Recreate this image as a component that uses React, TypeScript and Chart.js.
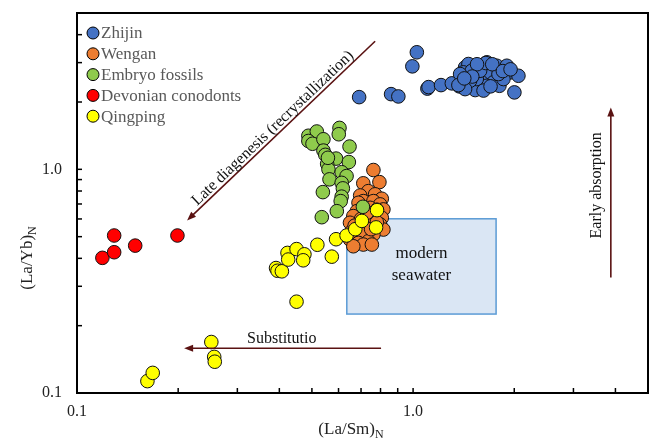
import { useEffect, useRef } from "react";
import { Chart, registerables } from "chart.js";
Chart.register(...registerables);

// ---------- data ----------
const seriesNames = ["Zhijin", "Wengan", "Embryo fossils", "Devonian conodonts", "Qingping"];
const seriesColors = ["#4472c4", "#ed7d31", "#8fcb4c", "#ff0000", "#ffff00"];

const zhijinX = [1.026, 0.995, 0.691, 0.86, 0.904, 1.103, 1.112, 1.211, 1.304, 1.373, 1.428, 1.461, 1.411, 1.495, 1.445, 1.53, 1.602, 1.658, 1.696, 1.775, 1.734, 1.807, 1.901, 1.953, 2.058, 2.002, 1.857, 1.658, 1.547, 1.38, 1.795, 1.583, 1.478, 1.428, 1.364, 1.646, 1.55, 1.72, 1.62, 1.5, 1.85, 1.95, 1.42, 1.7];
const zhijinY = [3.337, 2.887, 2.103, 2.169, 2.118, 2.296, 2.332, 2.38, 2.423, 2.349, 2.858, 2.957, 2.714, 2.759, 2.363, 2.262, 2.533, 3.009, 2.714, 2.905, 2.448, 2.363, 2.905, 2.714, 2.62, 2.208, 2.533, 2.363, 2.533, 2.667, 2.667, 2.759, 2.489, 2.284, 2.38, 2.987, 2.95, 2.95, 2.25, 2.6, 2.75, 2.8, 2.55, 2.35];

const wenganX = [0.762, 0.794, 0.711, 0.736, 0.771, 0.807, 0.696, 0.711, 0.688, 0.762, 0.798, 0.816, 0.745, 0.68, 0.664, 0.754, 0.807, 0.649, 0.728, 0.798, 0.816, 0.657, 0.696, 0.762, 0.649, 0.688, 0.736, 0.711, 0.754, 0.664, 0.7, 0.67, 0.78, 0.78, 0.73, 0.75];
const wenganY = [0.993, 0.877, 0.866, 0.799, 0.773, 0.739, 0.764, 0.721, 0.709, 0.721, 0.697, 0.662, 0.673, 0.65, 0.618, 0.618, 0.607, 0.577, 0.567, 0.567, 0.538, 0.529, 0.52, 0.511, 0.485, 0.469, 0.477, 0.461, 0.461, 0.453, 0.6, 0.56, 0.66, 0.58, 0.64, 0.54];

const embryoX = [0.604, 0.601, 0.488, 0.517, 0.488, 0.502, 0.541, 0.647, 0.541, 0.548, 0.59, 0.555, 0.644, 0.56, 0.613, 0.634, 0.564, 0.613, 0.618, 0.539, 0.613, 0.609, 0.593, 0.535, 0.709, 0.558];
const embryoY = [1.532, 1.435, 1.413, 1.476, 1.339, 1.301, 1.363, 1.264, 1.213, 1.161, 1.117, 1.058, 1.078, 1.0, 0.971, 0.933, 0.902, 0.87, 0.822, 0.791, 0.755, 0.721, 0.65, 0.611, 0.68, 1.126];

const devonianX = [0.119, 0.129, 0.129, 0.149, 0.199];
const devonianY = [0.402, 0.506, 0.426, 0.456, 0.506];

const qingpingX = [0.162, 0.168, 0.251, 0.256, 0.257, 0.45, 0.391, 0.395, 0.407, 0.423, 0.425, 0.45, 0.475, 0.471, 0.519, 0.573, 0.59, 0.634, 0.673, 0.704, 0.776, 0.781];
const qingpingY = [0.113, 0.123, 0.169, 0.145, 0.138, 0.256, 0.362, 0.352, 0.35, 0.423, 0.395, 0.44, 0.417, 0.392, 0.46, 0.407, 0.487, 0.506, 0.54, 0.588, 0.55, 0.657];

// axes
const xRange = [0.1, 5];
const yRange = [0.1, 5];
const majorTicks = [0.1, 1];
const majorLabels = ["0.1", "1.0"];
const minorTicks = [0.2, 0.3, 0.4, 0.5, 0.6, 0.7, 0.8, 0.9, 2, 3, 4];

// seawater box [xMin, xMax, yMin, yMax]
const seawaterBox = [0.635, 1.766, 0.2254, 0.601];
const seawaterLines = ["modern", "seawater"];

// arrows: [x1, y1, x2, y2] (head at x2,y2)
const diagArrow = [0.771, 3.738, 0.2126, 0.5906];
const subArrow = [0.803, 0.1586, 0.2083, 0.1586];
const earlyArrow = [3.876, 0.328, 3.876, 1.891];
// labels: [x, y]
const diagLabelPos = [0.3827, 1.527];
const subLabelPos = [0.4067, 0.174];
const earlyLabelPos = [3.53, 0.848];

const SERIF = '"Liberation Serif", "Times New Roman", serif';
const ARROW_COLOR = "#5a1212";

function toPoints(xs: number[], ys: number[]) {
  return xs.map((x, i) => ({ x, y: ys[i] }));
}

function drawArrow(ctx: CanvasRenderingContext2D, x1: number, y1: number, x2: number, y2: number) {
  const ang = Math.atan2(y2 - y1, x2 - x1);
  const hl = 9, hw = 3.5;
  ctx.save();
  ctx.strokeStyle = ARROW_COLOR;
  ctx.fillStyle = ARROW_COLOR;
  ctx.lineWidth = 1.6;
  ctx.beginPath();
  ctx.moveTo(x1, y1);
  ctx.lineTo(x2 - Math.cos(ang) * hl * 0.7, y2 - Math.sin(ang) * hl * 0.7);
  ctx.stroke();
  ctx.beginPath();
  ctx.moveTo(x2, y2);
  ctx.lineTo(x2 - Math.cos(ang) * hl - Math.sin(ang) * hw, y2 - Math.sin(ang) * hl + Math.cos(ang) * hw);
  ctx.lineTo(x2 - Math.cos(ang) * hl + Math.sin(ang) * hw, y2 - Math.sin(ang) * hl - Math.cos(ang) * hw);
  ctx.closePath();
  ctx.fill();
  ctx.restore();
}

const annotPlugin = {
  id: "annot",
  beforeDatasetsDraw(chart: any) {
    const { ctx, scales } = chart;
    const xs = scales.x, ys = scales.y;
    const l = xs.getPixelForValue(seawaterBox[0]);
    const r = xs.getPixelForValue(seawaterBox[1]);
    const b = ys.getPixelForValue(seawaterBox[2]);
    const t = ys.getPixelForValue(seawaterBox[3]);
    ctx.save();
    ctx.fillStyle = "#dae6f4";
    ctx.fillRect(l, t, r - l, b - t);
    ctx.strokeStyle = "#5b9bd5";
    ctx.lineWidth = 1.5;
    ctx.strokeRect(l, t, r - l, b - t);
    ctx.fillStyle = "#111";
    ctx.font = `17px ${SERIF}`;
    ctx.textAlign = "center";
    ctx.textBaseline = "middle";
    const cx = (l + r) / 2;
    const cy = (t + b) / 2;
    ctx.fillText(seawaterLines[0], cx, cy - 13);
    ctx.fillText(seawaterLines[1], cx, cy + 9);
    ctx.restore();
  },
  afterDatasetsDraw(chart: any) {
    const { ctx, scales } = chart;
    const xs = scales.x, ys = scales.y;
    const P = (a: number[]) => [xs.getPixelForValue(a[0]), ys.getPixelForValue(a[1]), xs.getPixelForValue(a[2]), ys.getPixelForValue(a[3])];
    const d = P(diagArrow);
    drawArrow(ctx, d[0], d[1], d[2], d[3]);
    const s = P(subArrow);
    drawArrow(ctx, s[0], s[1], s[2], s[3]);
    const e = P(earlyArrow);
    drawArrow(ctx, e[0], e[1], e[2], e[3]);

    ctx.save();
    ctx.fillStyle = "#111";
    ctx.font = `16px ${SERIF}`;
    ctx.textAlign = "center";
    ctx.textBaseline = "middle";
    const ang = Math.atan2(d[1] - d[3], d[0] - d[2]);
    ctx.save();
    ctx.translate(xs.getPixelForValue(diagLabelPos[0]), ys.getPixelForValue(diagLabelPos[1]));
    ctx.rotate(ang);
    ctx.fillText("Late diagenesis (recrystallization)", 0, 0);
    ctx.restore();
    ctx.fillText("Substitutio", xs.getPixelForValue(subLabelPos[0]), ys.getPixelForValue(subLabelPos[1]));
    ctx.save();
    ctx.translate(xs.getPixelForValue(earlyLabelPos[0]), ys.getPixelForValue(earlyLabelPos[1]));
    ctx.rotate(-Math.PI / 2);
    ctx.fillText("Early absorption", 0, 0);
    ctx.restore();
    ctx.restore();
  },
  afterDraw(chart: any) {
    const { ctx, chartArea, scales } = chart;
    const { left, right, top, bottom } = chartArea;
    ctx.save();
    ctx.strokeStyle = "#000";
    ctx.lineWidth = 1.5;
    const allTicks = majorTicks.concat(minorTicks);
    for (const v of allTicks) {
      const px = scales.x.getPixelForValue(v);
      if (px > left + 1 && px < right - 1) {
        ctx.beginPath();
        ctx.moveTo(px, bottom);
        ctx.lineTo(px, bottom - 5);
        ctx.stroke();
      }
      const py = scales.y.getPixelForValue(v);
      if (py > top + 1 && py < bottom - 1) {
        ctx.beginPath();
        ctx.moveTo(left, py);
        ctx.lineTo(left + 5, py);
        ctx.stroke();
      }
    }
    ctx.lineWidth = 2;
    ctx.strokeRect(left, top, right - left, bottom - top);

    const lx = left + 16;
    const ly0 = top + 20;
    const step = 20.8;
    seriesNames.forEach((name, i) => {
      const y = ly0 + i * step;
      ctx.beginPath();
      ctx.arc(lx, y, 6, 0, Math.PI * 2);
      ctx.fillStyle = seriesColors[i];
      ctx.fill();
      ctx.lineWidth = 1;
      ctx.strokeStyle = "#000";
      ctx.stroke();
      ctx.fillStyle = "#595959";
      ctx.font = `17px ${SERIF}`;
      ctx.textAlign = "left";
      ctx.textBaseline = "middle";
      ctx.fillText(name, lx + 8, y + 1);
    });

    ctx.fillStyle = "#222";
    const drawTitle = (main: string, sub: string) => {
      ctx.font = `17px ${SERIF}`;
      const w1 = ctx.measureText(main).width;
      ctx.font = `12px ${SERIF}`;
      const w2 = ctx.measureText(sub).width;
      const total = w1 + w2;
      ctx.textAlign = "left";
      ctx.textBaseline = "alphabetic";
      ctx.font = `17px ${SERIF}`;
      ctx.fillText(main, -total / 2, 0);
      ctx.font = `12px ${SERIF}`;
      ctx.fillText(sub, -total / 2 + w1, 4);
    };
    ctx.save();
    ctx.translate(351, 434);
    drawTitle("(La/Sm)", "N");
    ctx.restore();
    ctx.save();
    ctx.translate(32, 258);
    ctx.rotate(-Math.PI / 2);
    drawTitle("(La/Yb)", "N");
    ctx.restore();
    ctx.restore();
  },
};

export default function App() {
  const ref = useRef<HTMLCanvasElement | null>(null);
  useEffect(() => {
    if (!ref.current) return;
    const mk = (i: number, xs: number[], ys: number[], order: number) => ({
      label: seriesNames[i],
      data: toPoints(xs, ys),
      backgroundColor: seriesColors[i],
      borderColor: "#111",
      borderWidth: 1,
      pointRadius: 6.8,
      pointHoverRadius: 6.8,
      order,
    });
    const zeroPad = (s: any) => {
      s.paddingLeft = 0;
      s.paddingRight = 0;
      s.paddingTop = 0;
      s.paddingBottom = 0;
    };
    const chart = new Chart(ref.current, {
      type: "scatter",
      data: {
        datasets: [
          mk(0, zhijinX, zhijinY, 5),
          mk(1, wenganX, wenganY, 4),
          mk(2, embryoX, embryoY, 3),
          mk(3, devonianX, devonianY, 2),
          mk(4, qingpingX, qingpingY, 1),
        ],
      },
      options: {
        responsive: false,
        animation: false,
        events: [],
        layout: { autoPadding: false, padding: { top: 13, right: 2, left: 0, bottom: 0 } },
        plugins: { legend: { display: false }, tooltip: { enabled: false } },
        scales: {
          x: {
            type: "logarithmic",
            min: xRange[0],
            max: xRange[1],
            afterBuildTicks: (s: any) => {
              s.ticks = majorTicks.map((v) => ({ value: v }));
            },
            afterFit: (s: any) => {
              s.height = 48;
              zeroPad(s);
            },
            ticks: {
              autoSkip: false,
              maxRotation: 0,
              padding: 9,
              color: "#222",
              font: { family: SERIF, size: 16 },
              callback: (v: any) => {
                const i = majorTicks.findIndex((m) => Math.abs(m - Number(v)) < 1e-9);
                return i >= 0 ? majorLabels[i] : "";
              },
            },
            grid: { display: false, drawTicks: false },
            border: { display: false },
          },
          y: {
            type: "logarithmic",
            min: yRange[0],
            max: yRange[1],
            afterBuildTicks: (s: any) => {
              s.ticks = majorTicks.map((v) => ({ value: v }));
            },
            afterFit: (s: any) => {
              s.width = 77;
              zeroPad(s);
            },
            ticks: {
              autoSkip: false,
              padding: 15,
              color: "#222",
              font: { family: SERIF, size: 16 },
              callback: (v: any) => {
                const i = majorTicks.findIndex((m) => Math.abs(m - Number(v)) < 1e-9);
                return i >= 0 ? majorLabels[i] : "";
              },
            },
            grid: { display: false, drawTicks: false },
            border: { display: false },
          },
        },
      },
      plugins: [annotPlugin],
    });
    return () => chart.destroy();
  }, []);
  return (
    <div style={{ position: "absolute", left: 0, top: 0, width: 650, height: 441, background: "#fff" }}>
      <canvas ref={ref} width={650} height={441} style={{ display: "block" }} />
    </div>
  );
}
